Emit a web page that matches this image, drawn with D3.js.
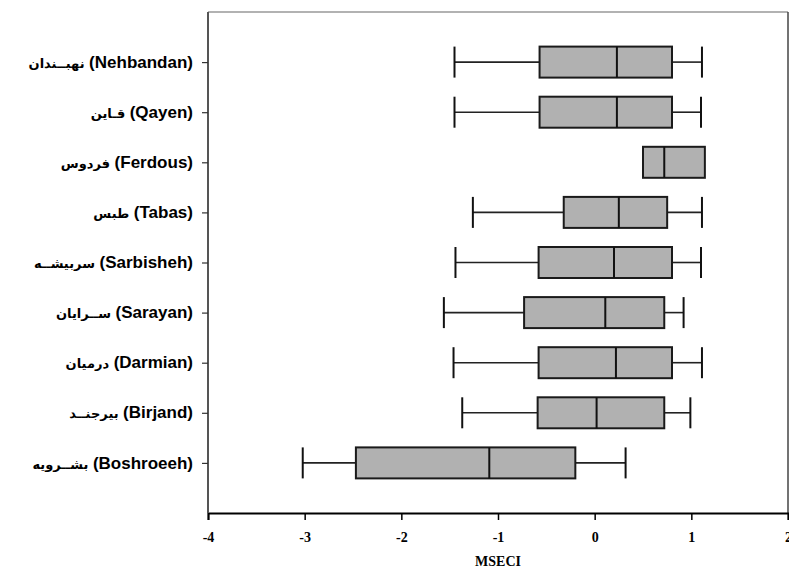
<!DOCTYPE html>
<html>
<head>
<meta charset="utf-8">
<script src="https://cdn.jsdelivr.net/npm/d3@7"></script>
<style>
  body { margin: 0; background: #fff; }
  svg { display: block; }
</style>
</head>
<body>
<svg id="chart" width="789" height="572"></svg>
<script>
// stations, top to bottom
const namesEn = ["Nehbandan", "Qayen", "Ferdous", "Tabas", "Sarbisheh", "Sarayan", "Darmian", "Birjand", "Boshroeeh"];
const namesFa = ["نهبــندان", "قـاین", "فردوس", "طبس", "سربیشــه", "ســرایان", "درمیان", "بیرجنــد", "بشــرویه"];

// box stats
const whiskerLow  = [-1.45, -1.45, 0.50, -1.26, -1.44, -1.56, -1.46, -1.37, -3.02];
const q1          = [-0.57, -0.57, 0.50, -0.32, -0.58, -0.73, -0.58, -0.59, -2.47];
const median      = [ 0.23,  0.23, 0.72,  0.25,  0.20,  0.11,  0.22,  0.02, -1.09];
const q3          = [ 0.80,  0.80, 1.14,  0.75,  0.80,  0.72,  0.80,  0.72, -0.20];
const whiskerHigh = [ 1.11,  1.10, 1.14,  1.11,  1.10,  0.92,  1.11,  0.99,  0.32];

const xTicks = [-4, -3, -2, -1, 0, 1, 2];

const rows = namesEn.map((n, i) => ({
  en: n, fa: namesFa[i],
  lo: whiskerLow[i], q1: q1[i], med: median[i], q3: q3[i], hi: whiskerHigh[i]
}));

const svg = d3.select("#chart");
const L = 208, R = 788, T = 12, B = 513;

const x = d3.scaleLinear().domain([-4, 2]).range([L, R]);
const y = d3.scalePoint().domain(namesEn).range([T, B]).padding(1);
const boxH = 31;

// frame (thin top/right)
svg.append("line").attr("x1", L).attr("x2", R).attr("y1", T).attr("y2", T)
  .attr("stroke", "#666").attr("stroke-width", 1.2);
svg.append("line").attr("x1", R).attr("x2", R).attr("y1", T).attr("y2", B)
  .attr("stroke", "#444").attr("stroke-width", 1.5);

// boxes
const g = svg.append("g");
const box = g.selectAll("g.box").data(rows).join("g").attr("class", "box")
  .attr("transform", d => `translate(0,${y(d.en)})`);

box.filter(d => d.lo < d.q1).append("line")
  .attr("x1", d => x(d.lo)).attr("x2", d => x(d.q1))
  .attr("stroke", "#222").attr("stroke-width", 1.6);
box.filter(d => d.hi > d.q3).append("line")
  .attr("x1", d => x(d.q3)).attr("x2", d => x(d.hi))
  .attr("stroke", "#222").attr("stroke-width", 1.6);
box.filter(d => d.lo < d.q1).append("line")
  .attr("x1", d => x(d.lo)).attr("x2", d => x(d.lo))
  .attr("y1", -boxH / 2).attr("y2", boxH / 2)
  .attr("stroke", "#111").attr("stroke-width", 2);
box.filter(d => d.hi > d.q3).append("line")
  .attr("x1", d => x(d.hi)).attr("x2", d => x(d.hi))
  .attr("y1", -boxH / 2).attr("y2", boxH / 2)
  .attr("stroke", "#111").attr("stroke-width", 2);

box.append("rect")
  .attr("x", d => x(d.q1)).attr("width", d => x(d.q3) - x(d.q1))
  .attr("y", -boxH / 2).attr("height", boxH)
  .attr("fill", "#b1b1b1").attr("stroke", "#1a1a1a").attr("stroke-width", 2);
box.append("line")
  .attr("x1", d => x(d.med)).attr("x2", d => x(d.med))
  .attr("y1", -boxH / 2).attr("y2", boxH / 2)
  .attr("stroke", "#111").attr("stroke-width", 2);

// x axis
const xAxis = svg.append("g").attr("transform", `translate(0,${B})`)
  .call(d3.axisBottom(x).tickValues(xTicks).tickSize(7).tickPadding(12).tickFormat(d => String(d)));
xAxis.select(".domain").attr("stroke", "#000").attr("stroke-width", 2);
xAxis.selectAll(".tick line").attr("stroke", "#000").attr("stroke-width", 1.5);
xAxis.selectAll(".tick text")
  .attr("font-family", "'Liberation Serif', 'Times New Roman', serif")
  .attr("font-weight", "bold").attr("font-size", 14).attr("fill", "#000");

svg.append("text").attr("x", (L + R) / 2).attr("y", 566)
  .attr("text-anchor", "middle")
  .attr("font-family", "'Liberation Serif', 'Times New Roman', serif")
  .attr("font-weight", "bold").attr("font-size", 14).text("MSECI");

// y axis
const yAxis = svg.append("g").attr("transform", `translate(${L},0)`)
  .call(d3.axisLeft(y).tickSize(6).tickFormat(""));
yAxis.select(".domain").attr("stroke", "#555").attr("stroke-width", 2)
  .attr("d", `M0,${T}V${B}`);
yAxis.selectAll(".tick line").attr("stroke", "#333").attr("stroke-width", 1.2);

const labels = svg.append("g").selectAll("text").data(rows).join("text")
  .attr("x", 193).attr("y", d => y(d.en)).attr("dy", "0.35em")
  .attr("text-anchor", "end").attr("fill", "#000");
labels.append("tspan")
  .attr("font-family", "'DejaVu Sans', sans-serif").attr("font-weight", "bold")
  .attr("font-size", 13).text(d => d.fa + " ");
labels.append("tspan")
  .attr("font-family", "'Liberation Sans', Arial, sans-serif").attr("font-weight", "bold")
  .attr("font-size", 17).text(d => "(" + d.en + ")");
</script>
</body>
</html>
